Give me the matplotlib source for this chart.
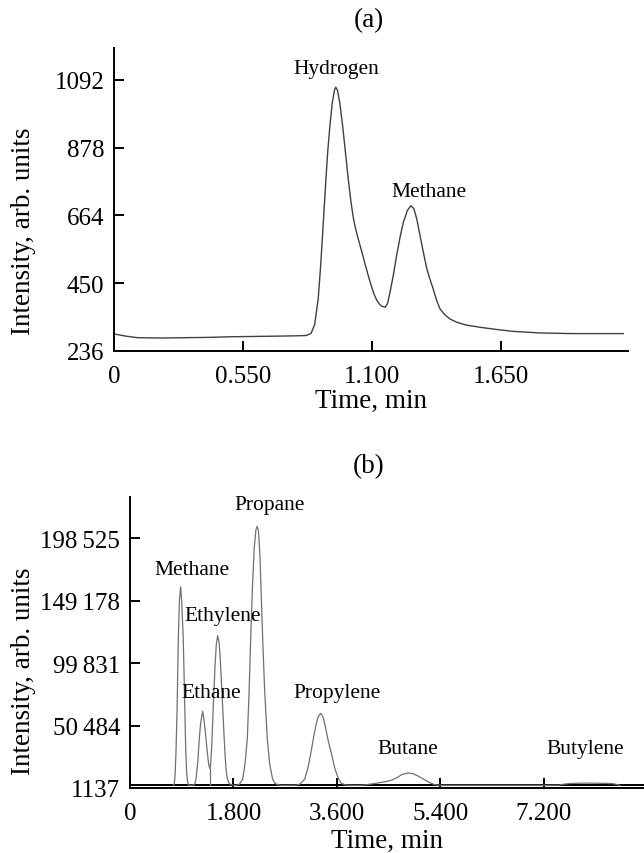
import matplotlib
matplotlib.use("Agg")
import matplotlib.pyplot as plt

plt.rcParams['font.family'] = ['Liberation Serif', 'DejaVu Serif']

# ---------------- Panel (a) data ----------------
a_time = [0.00, 0.05, 0.10, 0.20, 0.30, 0.40, 0.50, 0.60, 0.70, 0.78, 0.82, 0.84,
          0.855, 0.87, 0.88, 0.89, 0.903, 0.91, 0.92, 0.93, 0.94, 0.945, 0.952, 0.962,
          0.974, 0.986, 0.998, 1.01, 1.02, 1.03, 1.04, 1.05, 1.06, 1.07, 1.08, 1.09,
          1.10, 1.11, 1.12, 1.13, 1.14, 1.155, 1.165, 1.176, 1.19, 1.204, 1.22, 1.233,
          1.25, 1.265, 1.278, 1.29, 1.304, 1.318, 1.333, 1.346, 1.36, 1.375, 1.389,
          1.41, 1.432, 1.46, 1.50, 1.559, 1.63, 1.70, 1.815, 1.95, 2.17]
a_int = [290, 283, 278, 277, 278, 279, 281, 282, 283, 284, 285, 292,
         320, 400, 500, 620, 779, 860, 948, 1020, 1062, 1069, 1060, 1020,
         948, 865, 779, 705, 655, 620, 592, 565, 538, 510, 483, 457,
         433, 412, 396, 385, 378, 374, 385, 421, 475, 537, 600, 643,
         680, 695, 685, 653, 600, 548, 495, 463, 432, 395, 369,
         350, 337, 327, 318, 311, 304, 298, 293, 291, 291]
a_xticks = [0, 0.55, 1.1, 1.65]
a_xticklabels = ["0", "0.550", "1.100", "1.650"]
a_yticks = [236, 450, 664, 878, 1092]
a_labels = ["Hydrogen", "Methane"]
a_label_t = [0.946, 1.341]
a_label_v = [1127, 739]

# ---------------- Panel (b) data ----------------
b_time = [0.75, 0.77, 0.785, 0.80, 0.82, 0.84, 0.86, 0.881, 0.90, 0.927, 0.95, 0.97,
          0.986, 1.00, 1.02, 1.06, 1.10, 1.13, 1.15, 1.18, 1.205, 1.23, 1.264, 1.29,
          1.322, 1.35, 1.37, 1.391, 1.40, 1.42, 1.44, 1.46, 1.48, 1.50, 1.525, 1.55,
          1.57, 1.59, 1.61, 1.63, 1.65, 1.67, 1.69, 1.72, 1.76, 1.80, 1.85, 1.90,
          1.93, 1.96, 2.00, 2.04, 2.07, 2.099, 2.13, 2.16, 2.19, 2.212, 2.235, 2.26,
          2.285, 2.308, 2.34, 2.388, 2.43, 2.48, 2.52, 2.58, 2.65, 2.80, 2.85, 2.95,
          3.04, 3.10, 3.15, 3.188, 3.23, 3.27, 3.316, 3.36, 3.40, 3.45, 3.51, 3.56,
          3.62, 3.67, 3.75, 3.85, 4.00, 4.10, 4.20, 4.30, 4.43, 4.55, 4.65, 4.73,
          4.84, 4.93, 5.00, 5.08, 5.15, 5.22, 5.30, 5.40, 5.60, 7.45, 7.55, 7.65,
          7.80, 7.95, 8.10, 8.25, 8.40, 8.52]
b_int = [3300, 4000, 12000, 30000, 65000, 118000, 150000, 160000, 148000, 118000, 70000, 30000,
         13000, 6000, 3500, 3300, 3300, 4500, 9000, 22000, 39800, 53000, 61700, 54000,
         39800, 27000, 19500, 16140, 19000, 33000, 56000, 78000, 98000, 114000, 121400, 116000,
         103000, 85000, 67000, 48000, 30000, 16000, 9000, 5000, 3500, 3300, 3300, 4000,
         6000, 8200, 20000, 39800, 75000, 118800, 160000, 190000, 205000, 207800, 204000, 185000,
         150000, 118800, 80000, 39800, 20000, 8200, 5000, 3500, 3300, 3300, 3300, 4000,
         8200, 18000, 30000, 39800, 50000, 57000, 60100, 57000, 49000, 38000, 27000, 17000,
         9000, 5000, 3500, 3300, 3300, 3600, 4300, 5000, 6000, 7300, 9500, 11800,
         13000, 12300, 10800, 8800, 7000, 5200, 3800, 3300, 3300, 3300, 4200, 4700,
         4900, 5000, 4900, 4800, 4600, 3300]
b_drop_t = [1.391, 1.391]
b_drop_v = [16140, 3300]
b_baseline = 3300
b_xticks = [0, 1.8, 3.6, 5.4, 7.2]
b_xticklabels = ["0", "1.800", "3.600", "5.400", "7.200"]
b_yticks = [1137, 50484, 99831, 149178, 198525]
b_yticklabels = ["1137", "50\u2009484", "99\u2009831", "149\u2009178", "198\u2009525"]
b_labels = ["Propane", "Methane", "Ethylene", "Ethane", "Propylene", "Butane", "Butylene"]
b_label_t = [2.437, 1.08, 1.619, 1.413, 3.604, 4.838, 7.913]
b_label_v = [224600, 173500, 137700, 76150, 76700, 32720, 32720]

W, H = 644, 854
fig = plt.figure(figsize=(W / 100, H / 100), dpi=100)

TICK_FS = 18
LABEL_FS = 19.5
ANN_FS = 15.5


def style(ax):
    for s in ['top', 'right']:
        ax.spines[s].set_visible(False)
    for s in ['left', 'bottom']:
        ax.spines[s].set_linewidth(1.4)
    ax.tick_params(direction='in', length=7, width=1.4, labelsize=TICK_FS, pad=7)
    ax.tick_params(axis='x', pad=10)


# Panel (a)
axa = fig.add_axes([114 / W, 1 - 352 / H, (628 - 114) / W, (352 - 49) / H])
axa.plot(a_time, a_int, color='#404040', lw=1.0)
axa.set_xlim(0, 2.19)
axa.set_ylim(236, 1193)
axa.set_xticks(a_xticks)
axa.set_xticklabels(a_xticklabels)
axa.set_yticks(a_yticks)
style(axa)
axa.set_xlabel("Time, min", fontsize=LABEL_FS, labelpad=1)
axa.set_ylabel("Intensity, arb. units", fontsize=LABEL_FS, va='center')
axa.yaxis.set_label_coords((24 - 114) / 514, 0.40)
for lab, t, v in zip(a_labels, a_label_t, a_label_v):
    axa.text(t, v, lab, ha='center', va='center', fontsize=ANN_FS)

# Panel (b)
axb = fig.add_axes([130 / W, 1 - 789 / H, (W - 130) / W, (789 - 498.3) / H])
axb.plot(b_time, b_int, color='#707070', lw=0.9)
axb.plot(b_drop_t, b_drop_v, color='#707070', lw=0.9)
axb.axhline(b_baseline, color='black', lw=1.4, zorder=1)
axb.set_xlim(0, 8.94)
axb.set_ylim(1137, 230670)
axb.set_xticks(b_xticks)
axb.set_xticklabels(b_xticklabels)
axb.set_yticks(b_yticks)
axb.set_yticklabels(b_yticklabels)
style(axb)
axb.set_xlabel("Time, min", fontsize=LABEL_FS, labelpad=3)
axb.set_ylabel("Intensity, arb. units", fontsize=LABEL_FS, va='center')
axb.yaxis.set_label_coords((24 - 130) / 514, 0.406)
for lab, t, v in zip(b_labels, b_label_t, b_label_v):
    axb.text(t, v, lab, ha='center', va='center', fontsize=ANN_FS)

fig.text(369 / W, 1 - 21 / H, "(a)", ha='center', va='center', fontsize=LABEL_FS)
fig.text(369 / W, 1 - 466.7 / H, "(b)", ha='center', va='center', fontsize=LABEL_FS)

fig.savefig("out.png", dpi=100)
